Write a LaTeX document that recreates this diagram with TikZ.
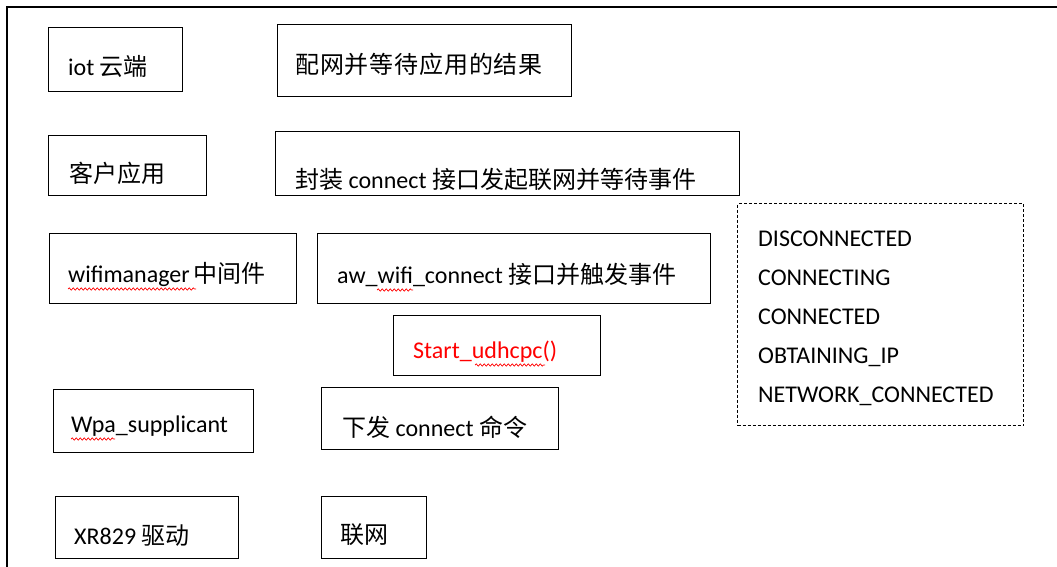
\documentclass[tikz,border=0pt]{standalone}
\usepackage{fontspec}
\setmainfont{Carlito}
\newfontfamily\cjk{Noto Sans CJK SC}
\usetikzlibrary{decorations.pathmorphing}
\newcommand\zh[1]{{\cjk #1}}

\begin{document}
\begin{tikzpicture}[x=1pt,y=-1pt,
  box/.style={draw=black, line width=1.3pt, anchor=north west, inner sep=0pt, rectangle},
  statebox/.style={draw=black, line width=1pt, dash pattern=on 3pt off 2pt, anchor=north west, inner sep=0pt, rectangle},
  lbl/.style={anchor=base west, inner sep=0pt, font=\fontsize{24}{28}\selectfont, text=black},
  redlbl/.style={lbl, text=red},
  squig/.style={red, line width=0.7pt, decorate, decoration={snake, amplitude=1.1pt, segment length=4pt}},
  frame/.style={line width=2pt, black}]
\useasboundingbox (0,0) rectangle (1057,567);

% outer frame (top and left edges only)
\coordinate (fbl) at (7,567);
\coordinate (ftl) at (7,7);
\coordinate (ftr) at (1057,7);
\draw[frame] (fbl) -- (ftl) -- (ftr);

% boxes
\node[box, minimum width=134, minimum height=64] (iotbox) at (48,27) {};
\node[box, minimum width=294, minimum height=72] (cfgbox) at (277,24) {};
\node[box, minimum width=158, minimum height=60] (appbox) at (48,135) {};
\node[box, minimum width=464, minimum height=64] (wrapbox) at (275,131) {};
\node[box, minimum width=247, minimum height=70] (wmbox) at (49,233) {};
\node[box, minimum width=393, minimum height=70] (awbox) at (317,233) {};
\node[box, minimum width=207, minimum height=60] (udhbox) at (393,315) {};
\node[box, minimum width=200, minimum height=63] (wpabox) at (53,389) {};
\node[box, minimum width=237, minimum height=62] (cmdbox) at (321,387) {};
\node[box, minimum width=183, minimum height=62] (xrbox) at (55,496) {};
\node[box, minimum width=105, minimum height=62] (netbox) at (321,496) {};
\node[statebox, minimum width=286, minimum height=222] (statesbox) at (737,203) {};

% labels
\node[lbl] (iot) at (68,76) {iot \zh{云端}};
\node[lbl] (cfg) at (295,74) {\zh{\addfontfeature{LetterSpace=3.5}配网并等待应用的结果}};
\node[lbl] (app) at (69,182) {\zh{客户应用}};
\node[lbl] (wrap) at (295,188) {\zh{封装} connect \zh{接口发起联网并等待事件}};
\node[lbl] (wm) at (68,282) {wifimanager\,\zh{中间件}};
\node[lbl] (aw) at (337,283) {aw\_wifi\_connect \zh{接口并触发事件}};
\node[redlbl] (udh) at (413,358) {Start\_udhcpc()};
\node[lbl] (wpa) at (71,432) {Wpa\_supplicant};
\node[lbl] (cmd) at (342,436) {\zh{下发} connect \zh{命令}};
\node[lbl] (xr) at (74,544) {XR829 \zh{驱动}};
\node[lbl] (net) at (340,543) {\zh{联网}};

\node[lbl] (s1) at (758,246) {DISCONNECTED};
\node[lbl] (s2) at (758,285) {CONNECTING};
\node[lbl] (s3) at (758,324) {CONNECTED};
\node[lbl] (s4) at (758,363) {OBTAINING\_IP};
\node[lbl] (s5) at (758,402) {NETWORK\_CONNECTED};

% spell-check squiggles
\coordinate (q1a) at (68,289);  \coordinate (q1b) at (196,289);
\coordinate (q2a) at (377,290); \coordinate (q2b) at (413,290);
\coordinate (q3a) at (475,365); \coordinate (q3b) at (545,365);
\coordinate (q4a) at (71,439);  \coordinate (q4b) at (115,439);
\draw[squig] (q1a) -- (q1b);
\draw[squig] (q2a) -- (q2b);
\draw[squig] (q3a) -- (q3b);
\draw[squig] (q4a) -- (q4b);
\end{tikzpicture}
\end{document}
